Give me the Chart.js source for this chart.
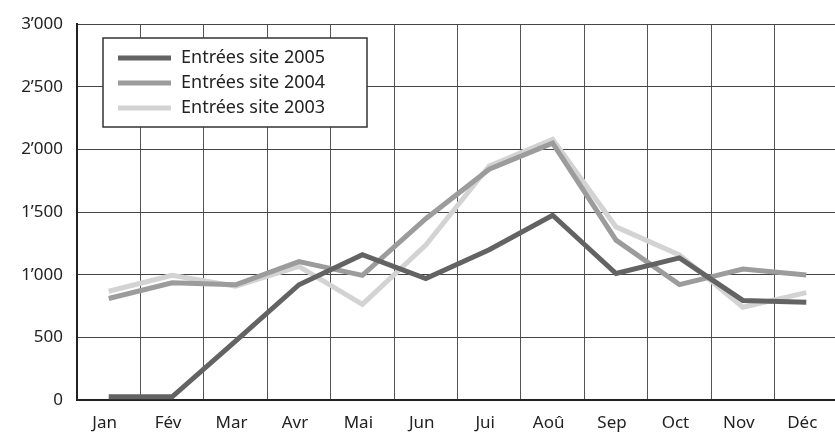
<!DOCTYPE html>
<html>
<head>
<meta charset="utf-8">
<script src="https://cdn.jsdelivr.net/npm/chart.js@4/dist/chart.umd.min.js"></script>
<style>
html,body{margin:0;padding:0;background:#fff;overflow:hidden;}
#wrap{width:842px;height:433px;position:relative;}
</style>
</head>
<body>
<div id="wrap"><canvas id="c" width="842" height="433"></canvas></div>
<script>
const months = ['Jan','Fév','Mar','Avr','Mai','Jun','Jui','Aoû','Sep','Oct','Nov','Déc'];
const labels2005 = 'Entrées site 2005';
const labels2004 = 'Entrées site 2004';
const labels2003 = 'Entrées site 2003';
const site2005 = [25, 25, 470, 920, 1160, 970, 1200, 1475, 1010, 1135, 795, 780];
const site2004 = [810, 935, 920, 1105, 995, 1447, 1842, 2050, 1276, 921, 1045, 998];
const site2003 = [868, 995, 908, 1066, 763, 1237, 1868, 2080, 1382, 1158, 740, 857];
const yTicks = [0, 500, 1000, 1500, 2000, 2500, 3000];

const FONT = "'Noto Sans', 'Open Sans', sans-serif";

function fmt(v){
  if (v >= 1000) return Math.floor(v/1000) + '\u2019' + String(v % 1000).padStart(3,'0');
  return String(v);
}

const legendBox = {
  id: 'legendBox',
  afterDraw(chart){
    const ctx = chart.ctx;
    ctx.save();
    const x0 = 103, y0 = 38, w = 264, h = 89;
    ctx.fillStyle = '#fff';
    ctx.fillRect(x0, y0, w, h);
    ctx.strokeStyle = '#333';
    ctx.lineWidth = 1.5;
    ctx.strokeRect(x0, y0, w, h);
    chart.data.datasets.forEach((ds, i) => {
      const y = 58 + i * 25;
      ctx.strokeStyle = ds.borderColor;
      ctx.lineWidth = 5;
      ctx.lineCap = 'butt';
      ctx.beginPath();
      ctx.moveTo(118, y);
      ctx.lineTo(171, y);
      ctx.stroke();
      ctx.fillStyle = '#222';
      ctx.font = '18px ' + FONT;
      ctx.textBaseline = 'middle';
      ctx.textAlign = 'left';
      ctx.fillText(ds.label, 181, y);
    });
    ctx.restore();
  }
};

new Chart(document.getElementById('c'), {
  type: 'line',
  data: {
    labels: months,
    datasets: [
      {label: labels2005, data: site2005, borderColor: '#636363'},
      {label: labels2004, data: site2004, borderColor: '#9c9c9c'},
      {label: labels2003, data: site2003, borderColor: '#d3d3d3'}
    ].map(d => Object.assign(d, {borderWidth: 5, pointRadius: 0, tension: 0, fill: false, borderJoinStyle: 'miter', borderCapStyle: 'butt'}))
  },
  options: {
    responsive: false,
    animation: false,
    layout: {padding: {top: 20, right: 4, left: 0, bottom: 0}},
    plugins: {legend: {display: false}, tooltip: {enabled: false}},
    scales: {
      x: {
        offset: true,
        grid: {offset: true, color: '#555', lineWidth: 1, drawTicks: false},
        border: {color: '#222', width: 2},
        ticks: {color: '#222', font: {family: FONT, size: 17}, padding: 13, labelOffset: -4, maxRotation: 0, autoSkip: false},
        afterFit(s){ s.height = 33; }
      },
      y: {
        min: 0, max: 3000,
        afterBuildTicks(s){ s.ticks = yTicks.map(v => ({value: v})); },
        grid: {color: '#444', lineWidth: 1, drawTicks: false},
        border: {color: '#222', width: 2},
        ticks: {color: '#222', font: {family: FONT, size: 17}, padding: 14, callback: v => fmt(v)},
        afterFit(s){ s.width = 77; }
      }
    }
  },
  plugins: [legendBox]
});
</script>
</body>
</html>
